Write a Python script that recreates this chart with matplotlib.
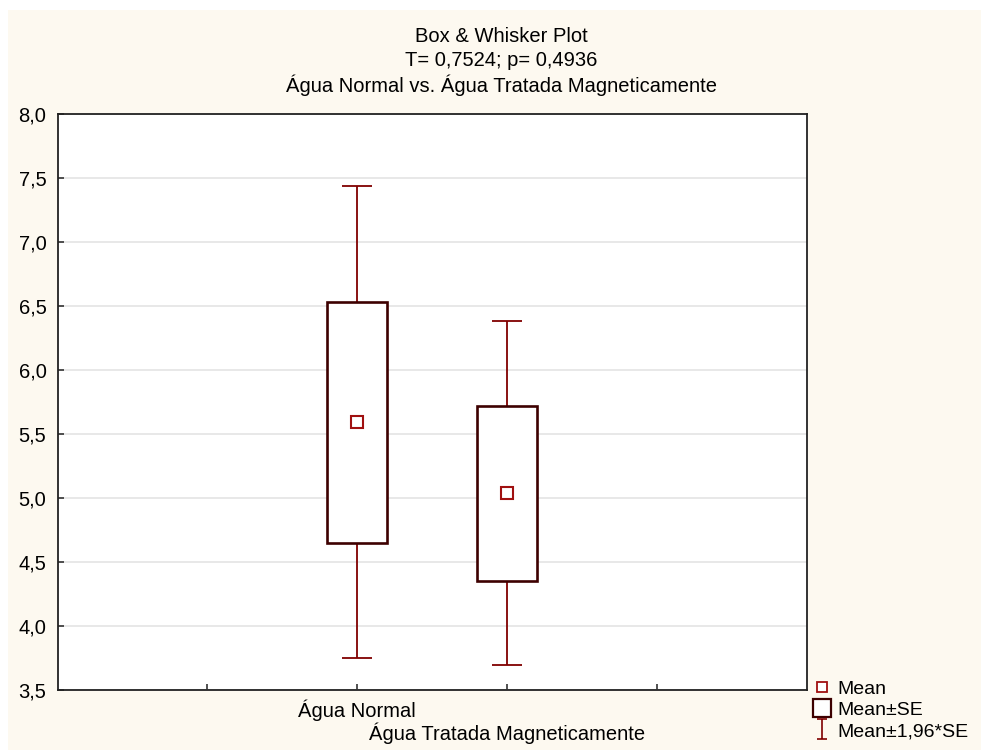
import matplotlib
matplotlib.use('Agg')
import matplotlib.pyplot as plt
from matplotlib.patches import Rectangle
from matplotlib.lines import Line2D
from matplotlib.path import Path
from matplotlib.ticker import FuncFormatter

plt.rcParams['font.family'] = ['Liberation Sans', 'DejaVu Sans']
plt.rcParams['font.size'] = 14.5

# data
groups = ['Água Normal', 'Água Tratada Magneticamente']
positions = [2, 3]
means = [5.59, 5.035]
se_low = [4.65, 4.35]
se_high = [6.53, 5.72]
ci_low = [3.745, 3.695]
ci_high = [7.44, 6.38]

cream = '#fdf9f0'
box_col = '#3d0000'
whisk_col = '#800000'
mean_col = '#a01010'

fig = plt.figure(figsize=(9.81, 7.5), dpi=100, facecolor='white')
# cream panel (white margin on top and left like the original export)
fig.add_artist(Rectangle((8 / 981, 0), 1, 1 - 10 / 750, transform=fig.transFigure,
                         facecolor=cream, edgecolor='none', zorder=-10))

ax = fig.add_axes([57.5 / 981, 60.3 / 750, 749.5 / 981, 575.7 / 750])
ax.set_facecolor('white')

# whiskers (mean +- 1.96*SE)
ax.vlines(positions, ci_low, ci_high, color=whisk_col, lw=1.3, zorder=2)
ax.hlines(ci_low, [p - 0.1 for p in positions], [p + 0.1 for p in positions],
          color=whisk_col, lw=1.3, zorder=2)
ax.hlines(ci_high, [p - 0.1 for p in positions], [p + 0.1 for p in positions],
          color=whisk_col, lw=1.3, zorder=2)

# boxes (mean +- SE)
heights = [h - l for h, l in zip(se_high, se_low)]
ax.bar(positions, heights, bottom=se_low, width=0.4, facecolor='white',
       edgecolor=box_col, linewidth=1.9, zorder=3)

# means
ax.plot(positions, means, ls='none', marker='s', ms=8, mfc='white',
        mec=mean_col, mew=1.5, zorder=4)

ax.set_xlim(0, 5)
ax.set_ylim(3.5, 8.0)
ax.set_yticks([3.5 + 0.5 * i for i in range(10)])
ax.yaxis.set_major_formatter(FuncFormatter(lambda v, p: f'{v:.1f}'.replace('.', ',')))
ax.set_xticks([1, 2, 3, 4])
ax.set_xticklabels(['', groups[0], groups[1], ''])
ax.tick_params(direction='in', length=4, width=1.2, color='#333333', labelsize=14.5)
ax.tick_params(axis='x', pad=7)
ax.tick_params(axis='y', pad=8)
# stagger the second category label onto a lower line
ax.xaxis.get_major_ticks()[2].set_pad(23.5)
ax.grid(axis='y', color='#e4e4e4', lw=1.2, zorder=0)
ax.set_axisbelow(True)
for s in ax.spines.values():
    s.set_color('#222222')
    s.set_linewidth(1.3)

# title
tx = 501 / 981
fig.text(tx, 1 - 36 / 750, 'Box & Whisker Plot', ha='center', va='center')
fig.text(tx, 1 - 60 / 750, 'T= 0,7524; p= 0,4936', ha='center', va='center')
fig.text(tx, 1 - 85 / 750, 'Água Normal vs. Água Tratada Magneticamente',
         ha='center', va='center')

# legend
ibeam = Path([(-0.5, 1), (0.5, 1), (0, 1), (0, -1), (-0.5, -1), (0.5, -1)],
             [Path.MOVETO, Path.LINETO, Path.MOVETO, Path.LINETO, Path.MOVETO, Path.LINETO])
handles = [
    Line2D([], [], ls='none', marker='s', ms=7, mfc='white', mec=mean_col, mew=1.3),
    Line2D([], [], ls='none', marker='s', ms=13, mfc='white', mec=box_col, mew=1.6),
    Line2D([], [], ls='none', marker=ibeam, ms=15, mfc='none', mec=whisk_col, mew=1.2),
]
fig.legend(handles, ['Mean', 'Mean±SE', 'Mean±1,96*SE'], loc='lower left',
           bbox_to_anchor=(809 / 981, 6 / 750), frameon=False, fontsize=14,
           handlelength=0.9, handletextpad=0.35, labelspacing=0.18, borderpad=0.2,
           borderaxespad=0)

fig.savefig('out.png', dpi=100, facecolor='white')
